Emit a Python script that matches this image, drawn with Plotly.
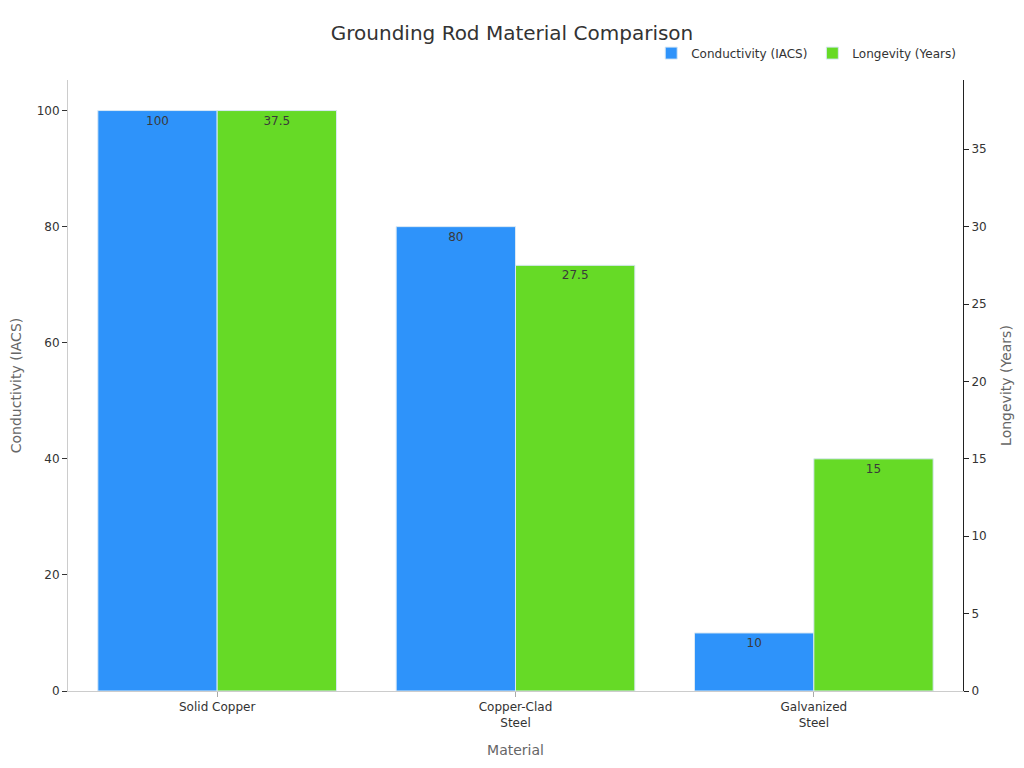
import plotly.graph_objects as go

categories = ["Solid Copper", "Copper-Clad<br>Steel", "Galvanized<br>Steel"]
conductivity = [100, 80, 10]
longevity = [37.5, 27.5, 15]
series_names = ["Conductivity (IACS)", "Longevity (Years)"]
colors = ["#2E93FA", "#66DA26"]

FONT = "DejaVu Sans"

fig = go.Figure()
fig.add_trace(go.Bar(
    x=categories, y=conductivity, name=series_names[0],
    marker=dict(color=colors[0], line=dict(color="#D8E8F5", width=1)),
    text=[str(v) for v in conductivity], textposition="inside",
    insidetextanchor="end", textfont=dict(color="#3a3a3a", size=12, family=FONT),
    offsetgroup="1", yaxis="y",
))
fig.add_trace(go.Bar(
    x=categories, y=longevity, name=series_names[1],
    marker=dict(color=colors[1], line=dict(color="#D8E8F5", width=1)),
    text=[str(v) for v in longevity], textposition="inside",
    insidetextanchor="end", textfont=dict(color="#3a3a3a", size=12, family=FONT),
    offsetgroup="2", yaxis="y2",
))

fig.update_layout(
    width=1016, height=760,
    margin=dict(l=60, r=61, t=72, b=77),
    paper_bgcolor="white", plot_bgcolor="white",
    font=dict(family=FONT, color="#333333", size=12),
    title=dict(text="Grounding Rod Material Comparison", x=0.4961, xanchor="center",
               y=0.967, yanchor="middle", font=dict(size=20, color="#333333", family=FONT)),
    barmode="group", bargap=0.2, bargroupgap=0,
    showlegend=True,
    legend=dict(orientation="h", x=0.998, xanchor="right", y=1.044, yanchor="middle",
                font=dict(size=12, color="#333333"), traceorder="normal"),
    xaxis=dict(
        title=dict(text="Material", font=dict(size=14, color="#666666"), standoff=16),
        automargin=False,
        showline=True, linecolor="#cccccc", linewidth=1,
        ticks="outside", tickcolor="#aaaaaa", ticklen=5,
        tickfont=dict(size=12, color="#333333"), showgrid=False,
    ),
    yaxis=dict(
        title=dict(text="Conductivity (IACS)", font=dict(size=14, color="#666666")),
        automargin=False,
        showline=True, linecolor="#cccccc", linewidth=1,
        ticks="outside", tickcolor="#333333", ticklen=5,
        showgrid=False, zeroline=False, rangemode="tozero",
        tickfont=dict(size=12, color="#333333"),
    ),
    yaxis2=dict(
        title=dict(text="Longevity (Years)", font=dict(size=14, color="#666666")),
        automargin=False,
        overlaying="y", side="right",
        showline=True, linecolor="#222222", linewidth=1,
        ticks="outside", tickcolor="#222222", ticklen=5,
        showgrid=False, zeroline=False, rangemode="tozero",
        tickfont=dict(size=12, color="#333333"),
    ),
)

fig.write_html("out.html")
